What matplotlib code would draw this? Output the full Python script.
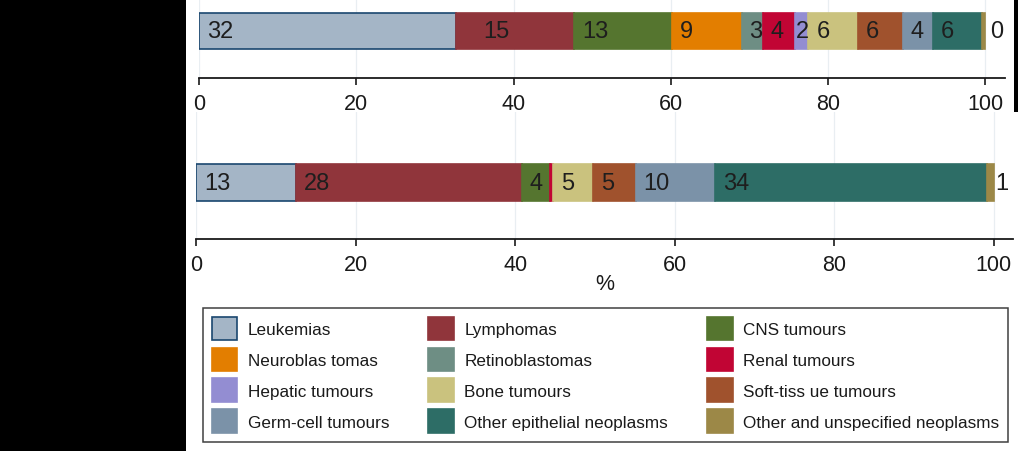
import matplotlib
matplotlib.use("Agg")
import matplotlib.pyplot as plt
from matplotlib.patches import Patch, Rectangle

plt.rcParams['font.family'] = ['Liberation Sans', 'DejaVu Sans']

# ---- data ----
categories = ["Leukemias", "Lymphomas", "CNS tumours", "Neuroblastomas",
              "Retinoblastomas", "Renal tumours", "Hepatic tumours", "Bone tumours",
              "Soft-tissue tumours", "Germ-cell tumours", "Other epithelial neoplasms",
              "Other and unspecified neoplasms"]
legend_labels = ["Leukemias", "Lymphomas", "CNS tumours", "Neuroblas tomas",
                 "Retinoblastomas", "Renal tumours", "Hepatic tumours", "Bone tumours",
                 "Soft-tiss ue tumours", "Germ-cell tumours", "Other epithelial neoplasms",
                 "Other and unspecified neoplasms"]
share_top = [32.7, 15.0, 12.4, 8.9, 2.7, 4.1, 1.7, 6.3, 5.7, 3.8, 6.3, 0.4]
labels_top = ["32", "15", "13", "9", "3", "4", "2", "6", "6", "4", "6", "0"]
share_bottom = [12.5, 28.3, 3.6, 0.0, 0.0, 0.3, 0.0, 5.1, 5.3, 10.0, 34.1, 0.8]
labels_bottom = ["13", "28", "4", "", "", "", "", "5", "5", "10", "34", "1"]
tick_values = [0, 20, 40, 60, 80, 100]
xlabel_text = "%"

# ---- style ----
colors = ["#A4B5C6", "#90353B", "#55752F", "#E37E00", "#6E8E84", "#C10534",
          "#938DD2", "#CAC27E", "#A0522D", "#7B92A8", "#2D6D66", "#9C8847"]
edges = ["#1A476F"] + colors[1:]
label_offsets_top = [1.0, 3.4, 1.0, 1.0, 1.0, 1.0, 0.1, 1.0, 1.0, 1.0, 1.0, 1.0]
label_offsets_bottom = [1.0] * 12

W, H = 1018, 452
fig = plt.figure(figsize=(W / 100, H / 100), dpi=100)
fig.patch.set_facecolor("white")


def fx(px):
    return px / W


def fy(py):
    return 1 - py / H


# black panels
fig.add_artist(Rectangle((0, 0), fx(186), 1, transform=fig.transFigure,
                         facecolor="black", edgecolor="none", zorder=0))
fig.add_artist(Rectangle((fx(1014), fy(113)), 1 - fx(1014), 113 / H,
                         transform=fig.transFigure, facecolor="black",
                         edgecolor="none", zorder=0))


def draw_panel(ax, shares, labels, offsets, xmax, ylo, yhi, show_xlabel):
    left = 0.0
    for v, lab, off, fc, ec in zip(shares, labels, offsets, colors, edges):
        if v > 0:
            ax.barh(0, v, left=left, height=0.8, color=fc, edgecolor=ec,
                    linewidth=1.2, zorder=3)
        if lab:
            ax.text(left + off, 0, lab, ha="left", va="center", fontsize=17,
                    color="#1e1e1e", zorder=4)
        left += v
    ax.set_xlim(0, xmax)
    ax.set_ylim(ylo, yhi)
    ax.set_xticks(tick_values)
    ax.set_xticklabels([str(t) for t in tick_values])
    ax.tick_params(axis="x", direction="out", length=4.8, width=1.2, pad=6.3,
                   labelsize=15.5, colors="#1a1a1a")
    ax.set_yticks([])
    for s in ["top", "left", "right"]:
        ax.spines[s].set_visible(False)
    ax.spines["bottom"].set_linewidth(1.3)
    ax.spines["bottom"].set_color("#1a1a1a")
    ax.grid(axis="x", color="#e9eef2", linewidth=0.9, zorder=0)
    ax.set_axisbelow(True)
    ax.set_facecolor("white")
    if show_xlabel:
        ax.set_xlabel(xlabel_text, fontsize=15.5, color="#1a1a1a", labelpad=-2)


# top panel: plot region from y=0 to axis at y=78.5 px
ax1 = fig.add_axes([fx(199), fy(78.5), (1005 - 199) / W, 78.5 / H])
draw_panel(ax1, share_top, labels_top, label_offsets_top, 102.5,
           -46.5 / 45, 32 / 45, False)

# bottom panel: plot region from y=113 to axis at y=240 px
ax2 = fig.add_axes([fx(196), fy(240), (1013 - 196) / W, 127 / H])
draw_panel(ax2, share_bottom, labels_bottom, label_offsets_bottom, 102.4,
           -56.5 / 46.25, 70.5 / 46.25, True)

# legend (row-wise order as 3 columns)
handles = [Patch(facecolor=c, edgecolor=e, linewidth=1.2) for c, e in zip(colors, edges)]
order = [i for col in range(3) for i in range(col, 12, 3)]
leg = fig.legend([handles[i] for i in order], [legend_labels[i] for i in order],
                 loc="upper left",
                 bbox_to_anchor=(fx(203), fy(440), (1008 - 203) / W, (440 - 309) / H),
                 mode="expand", ncol=3, frameon=True, fancybox=False,
                 edgecolor="#111111", borderaxespad=0, fontsize=12.3,
                 handlelength=1.5, handleheight=1.75, labelspacing=0.43,
                 handletextpad=0.62, borderpad=0.5)
leg.get_frame().set_linewidth(1.1)
for t in leg.get_texts():
    t.set_color("#1a1a1a")

fig.savefig("out.png", dpi=100, facecolor="white")
